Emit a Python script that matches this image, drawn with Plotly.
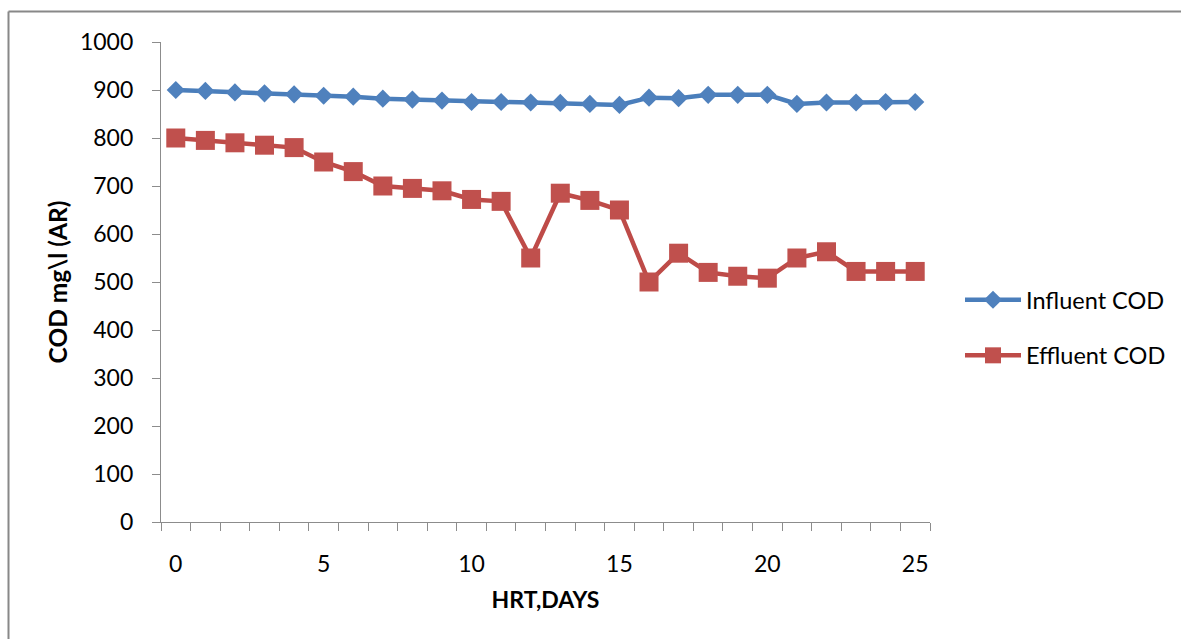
import plotly.graph_objects as go

# Hydraulic retention time (days)
hrt_days = list(range(0, 26))

# COD readings, mg/l
influent_cod = [900, 898, 895, 893, 891, 888, 886, 882, 880, 878, 875, 875, 874,
                873, 871, 869, 884, 883, 890, 890, 890, 871, 874, 874, 875, 875]
effluent_cod = [800, 795, 790, 785, 780, 750, 730, 700, 695, 690, 672, 668, 550,
                685, 670, 650, 500, 560, 520, 512, 508, 550, 563, 522, 522, 522]

x_labels = [0, 5, 10, 15, 20, 25]
y_ticks = list(range(0, 1001, 100))

W, H = 1181, 639
M_L, M_R, M_T, M_B = 161, 251, 42, 117
plot_w = W - M_L - M_R
plot_h = H - M_T - M_B

FONT = "Lato"
AXIS_GRAY = "#8c8c8c"

fig = go.Figure()
fig.add_trace(go.Scatter(
    x=hrt_days, y=influent_cod, name="Influent COD", mode="lines+markers",
    line=dict(color="#4A7EBB", width=4.5),
    marker=dict(symbol="diamond", size=14, color="#4F81BD"),
    legendgroup="a",
))
fig.add_trace(go.Scatter(
    x=hrt_days, y=effluent_cod, name="Effluent COD", mode="lines+markers",
    line=dict(color="#BE4B48", width=4.5),
    marker=dict(symbol="square", size=19, color="#C0504D"),
    legendgroup="b",
))

# outer frame (top and left edges only are visible)
fx0 = (8.5 - M_L) / plot_w
fy1 = 1 + (M_T - 11.5) / plot_h
fig.add_shape(type="line", xref="paper", yref="paper", x0=fx0, x1=(W + 10 - M_L) / plot_w,
              y0=fy1, y1=fy1, line=dict(color="#888888", width=2))
fig.add_shape(type="line", xref="paper", yref="paper", x0=fx0, x1=fx0,
              y0=fy1, y1=-(M_B + 10) / plot_h, line=dict(color="#888888", width=2))

fig.update_layout(
    width=W, height=H,
    margin=dict(l=M_L, r=M_R, t=M_T, b=M_B, autoexpand=False),
    paper_bgcolor="white", plot_bgcolor="white",
    font=dict(family=FONT, size=23, color="#000000"),
    showlegend=True,
    legend=dict(
        x=(960 - M_L) / plot_w, xanchor="left",
        y=(522 - 328) / plot_h, yanchor="middle",
        traceorder="grouped", tracegroupgap=22,
        font=dict(family=FONT, size=23.5),
        bgcolor="rgba(0,0,0,0)", itemwidth=56,
    ),
    xaxis=dict(
        range=[-0.5, 25.5], tickvals=x_labels, ticktext=[str(v) for v in x_labels],
        ticks="outside", ticklen=0, showgrid=False, zeroline=False,
        showline=True, linecolor=AXIS_GRAY, linewidth=1.2,
        ticklabelstandoff=21,
        minor=dict(tickvals=[v - 0.5 for v in hrt_days] + [25.5], ticks="outside",
                   ticklen=8, tickcolor=AXIS_GRAY, tickwidth=1.2, showgrid=False),
        title=dict(text="<b>HRT,DAYS</b>", font=dict(family=FONT, size=23), standoff=16),
    ),
    yaxis=dict(
        range=[0, 1000], tickvals=y_ticks, ticks="outside", ticklen=8,
        tickcolor=AXIS_GRAY, tickwidth=1.2, showgrid=False, zeroline=False,
        showline=True, linecolor=AXIS_GRAY, linewidth=1.2,
        ticklabelstandoff=14,
        title=dict(text="<b>COD mg\\l (AR)</b>", font=dict(family=FONT, size=24.5), standoff=5),
    ),
)

fig.write_html("out.html")
